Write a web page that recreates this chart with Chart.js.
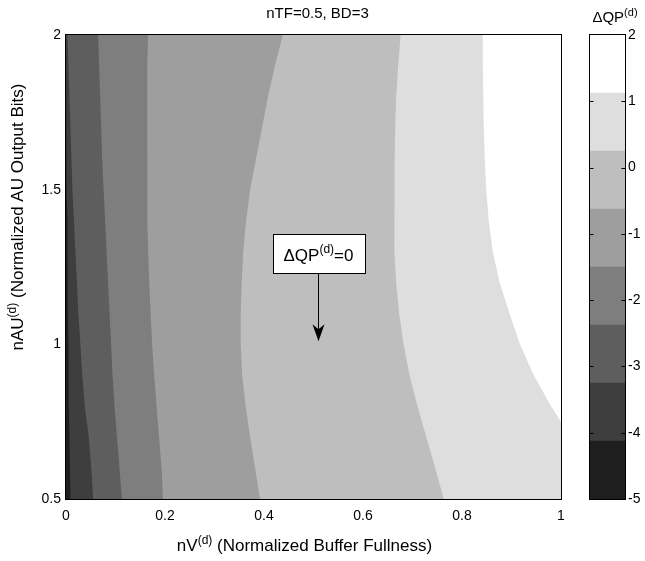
<!DOCTYPE html>
<html>
<head>
<meta charset="utf-8">
<script src="https://cdn.jsdelivr.net/npm/chart.js@4/dist/chart.umd.min.js"></script>
<style>
  html, body { margin: 0; padding: 0; background: #ffffff; }
  #wrap { position: relative; width: 645px; height: 561px; }
  #main { position: absolute; left: 0; top: 0; }
  #bar { position: absolute; left: 560px; top: 0; }
</style>
</head>
<body>
<div id="wrap">
  <canvas id="main" width="645" height="561"></canvas>
  <canvas id="bar" width="85" height="561"></canvas>
</div>
<script>
// Rows of nAU(d) along which each contour edge is traced
const rowsAU = [2.0, 1.9, 1.8, 1.7, 1.6, 1.5, 1.4, 1.3, 1.2, 1.1, 1.0, 0.9, 0.8, 0.7, 0.6, 0.5];

// nV(d) position of each filled-contour edge on those rows (darker band on the left)
const edge1 = [0.000, 0.000, 0.001, 0.001, 0.002, 0.002, 0.003, 0.003, 0.004, 0.004, 0.005, 0.005, 0.006, 0.007, 0.008, 0.009];
const edge2 = [0.003, 0.005, 0.007, 0.009, 0.011, 0.013, 0.016, 0.019, 0.022, 0.025, 0.029, 0.033, 0.038, 0.046, 0.051, 0.055];
const edge3 = [0.065, 0.067, 0.069, 0.071, 0.073, 0.076, 0.079, 0.082, 0.085, 0.088, 0.091, 0.094, 0.098, 0.103, 0.108, 0.113];
const edge4 = [0.166, 0.164, 0.164, 0.164, 0.164, 0.164, 0.165, 0.166, 0.168, 0.171, 0.174, 0.178, 0.183, 0.188, 0.193, 0.196];
const edge5 = [0.438, 0.422, 0.408, 0.396, 0.384, 0.372, 0.364, 0.358, 0.355, 0.353, 0.353, 0.356, 0.363, 0.372, 0.382, 0.392];
const edge6 = [0.676, 0.671, 0.667, 0.665, 0.664, 0.663, 0.663, 0.664, 0.667, 0.673, 0.682, 0.694, 0.710, 0.728, 0.746, 0.763];
const edge7 = [0.842, 0.842, 0.843, 0.844, 0.846, 0.849, 0.854, 0.862, 0.876, 0.896, 0.917, 0.945, 0.980, 1.020, 1.070, 1.120];

// Grey levels of the eight ΔQP(d) bands, darkest (-5) to lightest (2)
const bandColors = ['#1e1e1e', '#3e3e3e', '#5e5e5e', '#7e7e7e', '#9e9e9e', '#bebebe', '#dedede', '#ffffff'];
// Limits of those bands on the ΔQP(d) colour bar
const bandLimits = [-5, -4.125, -3.25, -2.375, -1.5, -0.625, 0.25, 1.125, 2];

const xTicks = [0, 0.2, 0.4, 0.6, 0.8, 1];
const yTicks = [0.5, 1, 1.5, 2];
const barTicks = [-5, -4, -3, -2, -1, 0, 1, 2];

// Annotated point: arrow at nV(d)=0.51 pointing down to nAU(d)=1.01
const noteX = [0.51];
const noteY = [1.01, 1.23];   // arrow tip, arrow tail

const X_MIN = 0, X_MAX = 1, Y_MIN = 0.5, Y_MAX = 2;
const FONT = '"Liberation Sans", Arial, Helvetica, sans-serif';

// Each band is a polygon from its left edge to the right-hand side of the axes;
// lighter bands are drawn over darker ones.
function bandPolygon(edge) {
  const pts = rowsAU.map((y, i) => ({ x: edge[i], y: y }));
  pts.push({ x: X_MAX, y: Y_MIN }, { x: X_MAX, y: Y_MAX });
  return pts;
}
const basePolygon = [
  { x: X_MIN, y: Y_MAX }, { x: X_MIN, y: Y_MIN }, { x: X_MAX, y: Y_MIN }, { x: X_MAX, y: Y_MAX }
];
const edges = [edge1, edge2, edge3, edge4, edge5, edge6, edge7];
const polygons = [basePolygon].concat(edges.map(bandPolygon));

const datasets = polygons.map((pts, i) => ({
  data: pts,
  backgroundColor: bandColors[i],
  borderWidth: 0,
  pointRadius: 0,
  fill: 'shape',
  tension: 0
})).reverse();

// Text with superscript runs: parts = [[text, isSup], ...]
function richWidth(ctx, parts, size) {
  let w = 0;
  for (const [t, sup] of parts) {
    ctx.font = (sup ? Math.round(size * 0.72) : size) + 'px ' + FONT;
    w += ctx.measureText(t).width;
  }
  return w;
}
function drawRich(ctx, parts, x, y, size, align) {
  const w = richWidth(ctx, parts, size);
  let cx = align === 'center' ? x - w / 2 : (align === 'right' ? x - w : x);
  ctx.textAlign = 'left';
  ctx.textBaseline = 'alphabetic';
  for (const [t, sup] of parts) {
    const s = sup ? Math.round(size * 0.72) : size;
    ctx.font = s + 'px ' + FONT;
    ctx.fillText(t, cx, sup ? y - size * 0.42 : y);
    cx += ctx.measureText(t).width;
  }
}

const axesDecor = {
  id: 'axesDecor',
  afterDraw(chart) {
    const { ctx, chartArea: a, scales } = chart;
    ctx.save();
    // axes box
    ctx.strokeStyle = '#000';
    ctx.lineWidth = 1;
    ctx.strokeRect(Math.round(a.left) - 0.5, Math.round(a.top) - 0.5,
                   Math.round(a.right - a.left) + 1, Math.round(a.bottom - a.top) + 1);

    ctx.fillStyle = '#000';
    // title
    ctx.font = '15px ' + FONT;
    ctx.textAlign = 'center';
    ctx.textBaseline = 'alphabetic';
    ctx.fillText('nTF=0.5, BD=3', (a.left + a.right) / 2 + 4, 18);

    // x label
    drawRich(ctx, [['nV', false], ['(d)', true], [' (Normalized Buffer Fullness)', false]],
             (a.left + a.right) / 2 - 9, 551, 17, 'center');
    // y label
    ctx.save();
    ctx.translate(23, (a.top + a.bottom) / 2 - 50);
    ctx.rotate(-Math.PI / 2);
    drawRich(ctx, [['nAU', false], ['(d)', true], [' (Normalized AU Output Bits)', false]],
             0, 0, 17, 'center');
    ctx.restore();

    // annotation: text box with an arrow
    const ax = Math.round(scales.x.getPixelForValue(noteX[0])) + 0.5;
    const tipY = scales.y.getPixelForValue(noteY[0]);
    const tailY = Math.round(scales.y.getPixelForValue(noteY[1])) + 0.5;
    const parts = [['\u0394QP', false], ['(d)', true], ['=0', false]];
    const tw = richWidth(ctx, parts, 17);
    const bw = Math.round(tw + 22), bh = 39;
    const bx = Math.round(ax - bw / 2) + 0.5, by = tailY - bh;
    ctx.fillStyle = '#fff';
    ctx.fillRect(bx, by, bw, bh);
    ctx.strokeStyle = '#000';
    ctx.strokeRect(bx, by, bw, bh);
    ctx.fillStyle = '#000';
    drawRich(ctx, parts, ax, by + 26, 17, 'center');
    // shaft
    ctx.beginPath();
    ctx.moveTo(ax, tailY);
    ctx.lineTo(ax, tipY - 8);
    ctx.stroke();
    // head
    ctx.beginPath();
    ctx.moveTo(ax, tipY);
    ctx.lineTo(ax - 6, tipY - 17);
    ctx.lineTo(ax, tipY - 12);
    ctx.lineTo(ax + 6, tipY - 17);
    ctx.closePath();
    ctx.fill();
    ctx.restore();
  }
};

const tickFont = { family: FONT, size: 14 };

new Chart(document.getElementById('main'), {
  type: 'line',
  data: { datasets: datasets },
  options: {
    responsive: false,
    animation: false,
    devicePixelRatio: 1,
    events: [],
    layout: { padding: { left: 26, right: 84, top: 35, bottom: 40 } },
    plugins: { legend: { display: false }, tooltip: { enabled: false } },
    scales: {
      x: {
        type: 'linear', min: X_MIN, max: X_MAX,
        grid: { display: false, drawTicks: false },
        border: { display: false },
        ticks: { padding: 9, color: '#000', font: tickFont, maxRotation: 0, callback: v => String(v) },
        afterBuildTicks: s => { s.ticks = xTicks.map(v => ({ value: v })); },
        afterFit: s => { s.height = 22; }
      },
      y: {
        type: 'linear', min: Y_MIN, max: Y_MAX,
        grid: { display: false, drawTicks: false },
        border: { display: false },
        ticks: { padding: 5, color: '#000', font: tickFont, callback: v => String(v) },
        afterBuildTicks: s => { s.ticks = yTicks.map(v => ({ value: v })); },
        afterFit: s => { s.width = 40; }
      }
    }
  },
  plugins: [axesDecor]
});

// Colour bar
const barDecor = {
  id: 'barDecor',
  afterDraw(chart) {
    const { ctx, chartArea: a, scales } = chart;
    ctx.save();
    ctx.strokeStyle = '#000';
    ctx.lineWidth = 1;
    const l = Math.round(a.left) - 0.5, r = Math.round(a.right) + 0.5;
    ctx.strokeRect(l, Math.round(a.top) - 0.5, r - l, Math.round(a.bottom - a.top) + 1);
    ctx.beginPath();
    for (const v of barTicks) {
      if (v === barTicks[0] || v === barTicks[barTicks.length - 1]) continue;
      const y = Math.round(scales.y.getPixelForValue(v)) + 0.5;
      ctx.moveTo(l, y); ctx.lineTo(l + 4, y);
      ctx.moveTo(r, y); ctx.lineTo(r - 4, y);
    }
    ctx.stroke();
    ctx.fillStyle = '#000';
    drawRich(ctx, [['\u0394QP', false], ['(d)', true]], 55, 22, 15, 'center');
    ctx.restore();
  }
};

new Chart(document.getElementById('bar'), {
  type: 'bar',
  data: {
    labels: ['\u0394QP'],
    datasets: bandColors.map((c, i) => ({
      data: [[bandLimits[i], bandLimits[i + 1]]],
      backgroundColor: c,
      borderWidth: 0,
      barPercentage: 1,
      categoryPercentage: 1,
      grouped: false
    }))
  },
  options: {
    responsive: false,
    animation: false,
    devicePixelRatio: 1,
    events: [],
    layout: { padding: { left: 30, right: 0, top: 35, bottom: 62 } },
    plugins: { legend: { display: false }, tooltip: { enabled: false } },
    scales: {
      x: { display: false },
      y: {
        position: 'right', min: -5, max: 2,
        grid: { display: false, drawTicks: false },
        border: { display: false },
        ticks: { padding: 3, color: '#000', font: tickFont, callback: v => String(v) },
        afterBuildTicks: s => { s.ticks = barTicks.map(v => ({ value: v })); },
        afterFit: s => { s.width = 20; }
      }
    }
  },
  plugins: [barDecor]
});
</script>
</body>
</html>
